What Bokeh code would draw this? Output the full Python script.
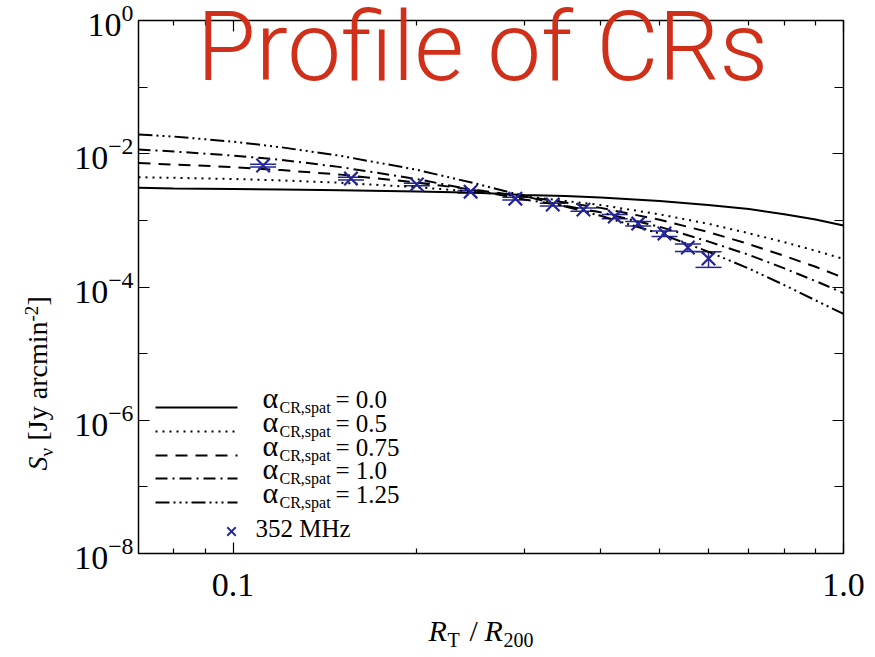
import math

from bokeh.plotting import figure
from bokeh.models import (Range1d, LinearScale, LogAxis, FixedTicker, PrintfTickFormatter,
                          Label, Whisker, TeeHead, ColumnDataSource)
from bokeh.embed import file_html
from bokeh.resources import INLINE

# ---- model surface-brightness profiles, S_nu [Jy arcmin^-2] vs R_T / R_200 ----
r_model = [0.07, 0.08, 0.1, 0.12, 0.15, 0.2, 0.25, 0.3, 0.35, 0.4, 0.5, 0.6, 0.7, 0.8, 0.9, 1.0]
s_alpha_000 = [3.09e-3, 3.02e-3, 2.95e-3, 2.90e-3, 2.83e-3, 2.71e-3, 2.59e-3, 2.41e-3,
               2.32e-3, 2.20e-3, 1.95e-3, 1.70e-3, 1.48e-3, 1.24e-3, 1.03e-3, 8.35e-4]
s_alpha_050 = [4.44e-3, 4.35e-3, 4.18e-3, 3.98e-3, 3.67e-3, 3.15e-3, 2.68e-3, 2.29e-3,
               1.96e-3, 1.70e-3, 1.23e-3, 8.9e-4, 6.4e-4, 4.7e-4, 3.5e-4, 2.64e-4]
s_alpha_075 = [7.25e-3, 6.88e-3, 6.31e-3, 5.68e-3, 4.86e-3, 3.70e-3, 2.86e-3, 2.28e-3,
               1.86e-3, 1.54e-3, 1.02e-3, 6.7e-4, 4.4e-4, 2.93e-4, 2.01e-4, 1.38e-4]
s_alpha_100 = [1.16e-2, 1.08e-2, 9.4e-3, 8.1e-3, 6.3e-3, 4.17e-3, 2.80e-3, 2.06e-3,
               1.65e-3, 1.32e-3, 8.0e-4, 4.84e-4, 3.04e-4, 1.90e-4, 1.23e-4, 8.1e-5]
s_alpha_125 = [1.94e-2, 1.81e-2, 1.52e-2, 1.25e-2, 9.3e-3, 5.75e-3, 3.56e-3, 2.32e-3,
               1.62e-3, 1.17e-3, 6.34e-4, 3.40e-4, 1.89e-4, 1.07e-4, 6.3e-5, 3.95e-5]
alpha_labels = ["0.0", "0.5", "0.75", "1.0", "1.25"]

# ---- 352 MHz radial profile ----
r_obs = [0.112, 0.156, 0.200, 0.245, 0.290, 0.334, 0.375, 0.422, 0.461, 0.509, 0.556, 0.601]
s_obs = [6.65e-3, 4.24e-3, 3.45e-3, 2.70e-3, 2.12e-3, 1.73e-3, 1.45e-3, 1.14e-3,
         8.95e-4, 6.34e-4, 3.91e-4, 2.67e-4]
s_err = [3.0e-4, 2.0e-4, 1.5e-4, 1.2e-4, 1.0e-4, 8e-5, 8e-5, 8e-5, 7e-5, 6e-5, 5e-5, 7e-5]
obs_label = "352 MHz"

# ---- axis ticks ----
x_major_ticks = [0.1, 1.0]
x_minor_ticks = [0.08, 0.09, 0.2, 0.3, 0.4, 0.5, 0.6, 0.7, 0.8, 0.9]
y_major_ticks = [1e-8, 1e-6, 1e-4, 1e-2, 1.0]
y_minor_ticks = [1e-7, 1e-5, 1e-3, 1e-1]

SERIF = "Liberation Serif"
BLUE = "#23239b"
RED = "#d0301a"
BASELINE_FIX = 0.38   # alphabetic-baseline correction for Label text, in em

W, H = 875, 657
# frame placement on the canvas
FL, FT, FW, FH = 138, 20, 705, 533

p = figure(x_axis_type="log", y_axis_type="log",
           x_range=Range1d(0.07, 1.0), y_range=Range1d(1e-8, 1.0),
           frame_width=FW, frame_height=FH,
           min_border_left=FL, min_border_right=W - FL - FW,
           min_border_top=FT, min_border_bottom=H - FT - FH,
           output_backend="svg", toolbar_location=None)
p.background_fill_color = "white"
p.border_fill_color = "white"
p.outline_line_color = "black"
p.outline_line_width = 1.5
p.xgrid.visible = False
p.ygrid.visible = False

# pixel-space ranges for the legend samples
p.extra_x_ranges = {"cx": Range1d(FL, FL + FW)}
p.extra_y_ranges = {"cy": Range1d(FT + FH, FT)}
p.extra_x_scales = {"cx": LinearScale()}
p.extra_y_scales = {"cy": LinearScale()}

x_ticker = FixedTicker(ticks=x_major_ticks, minor_ticks=x_minor_ticks)
y_ticker = FixedTicker(ticks=y_major_ticks, minor_ticks=y_minor_ticks)


def style_axis(ax, minor_len):
    ax.axis_line_color = None
    ax.major_tick_in = 11
    ax.major_tick_out = 0
    ax.minor_tick_in = minor_len
    ax.minor_tick_out = 0
    ax.major_tick_line_color = "black"
    ax.minor_tick_line_color = "black"
    ax.major_tick_line_width = 1.2
    ax.minor_tick_line_width = 1.2
    ax.major_label_text_font = SERIF
    ax.major_label_text_font_size = "34px"
    ax.major_label_text_color = "black"


xb = p.xaxis[0]
xb.ticker = x_ticker
xb.formatter = PrintfTickFormatter(format="%.1f")
style_axis(xb, 5)
xb.major_label_standoff = 20

yl = p.yaxis[0]
yl.ticker = y_ticker
style_axis(yl, 9)
yl.major_label_standoff = 5

xt = LogAxis(ticker=x_ticker)
style_axis(xt, 5)
xt.major_label_text_color = None
xt.major_label_text_font_size = "0px"
xt.major_label_standoff = 0
p.add_layout(xt, "above")

yr = LogAxis(ticker=y_ticker)
style_axis(yr, 9)
yr.major_label_text_color = None
yr.major_label_text_font_size = "0px"
yr.major_label_standoff = 0
p.add_layout(yr, "right")

# model curves
curves = [s_alpha_000, s_alpha_050, s_alpha_075, s_alpha_100, s_alpha_125]
dashes = ["solid", "2 5", "12 8", "12 5 2 5", "14 4 2 4 2 4 2 4"]
for s, d in zip(curves, dashes):
    p.line(r_model, s, line_color="black", line_width=2, line_dash=d)

# observed profile with error bars
src = ColumnDataSource(dict(
    r=r_obs, s=s_obs,
    lo=[v - e for v, e in zip(s_obs, s_err)],
    hi=[v + e for v, e in zip(s_obs, s_err)],
))
p.add_layout(Whisker(source=src, base="r", lower="lo", upper="hi", dimension="height",
                     line_color=BLUE, line_width=1.5,
                     lower_head=TeeHead(size=26, line_color=BLUE, line_width=1.5),
                     upper_head=TeeHead(size=26, line_color=BLUE, line_width=1.5)))
p.scatter("r", "s", source=src, marker="x", size=19, line_color=BLUE, line_width=2.2)

# legend samples
row_base = [408, 432, 456, 479, 503]
for d, yb in zip(dashes, row_base):
    p.line([155, 237], [yb - 1, yb - 1], x_range_name="cx", y_range_name="cy",
           line_color="black", line_width=2, line_dash=d)
p.scatter([231], [531], x_range_name="cx", y_range_name="cy", marker="x", size=12,
          line_color=BLUE, line_width=1.8)

# transparent text layer laid over the plot, in canvas pixel coordinates
t = figure(width=W, height=H, x_range=Range1d(0, W), y_range=Range1d(H, 0),
           min_border=0, x_axis_location=None, y_axis_location=None,
           output_backend="svg", toolbar_location=None,
           styles={"position": "absolute", "left": "0px", "top": "0px"})
t.background_fill_color = None
t.border_fill_color = None
t.outline_line_color = None
t.xgrid.visible = False
t.ygrid.visible = False


def text_at(text, cx, cy, size, style="normal", color="black", font=SERIF,
            angle=0.0, align="left"):
    shift = BASELINE_FIX * size
    if angle:
        cx -= shift
    else:
        cy -= shift
    t.add_layout(Label(x=cx, y=cy, text=text,
                       text_font=font, text_font_size=f"{size}px", text_font_style=style,
                       text_color=color, text_align=align, text_baseline="alphabetic",
                       angle=angle))


# legend texts
for lab, yb in zip(alpha_labels, row_base):
    text_at("\u03b1", 262, yb, 30)
    text_at("CR,spat", 279, yb + 5, 16)
    text_at("= " + lab, 335, yb, 25)
text_at(obs_label, 255, 537, 25)

# x axis title: R_T / R_200
text_at("R", 428, 641, 30, style="italic")
text_at("T", 447, 647, 20)
text_at("/", 469, 641, 30)
text_at("R", 484, 641, 30, style="italic")
text_at("200", 503, 647, 20)

# y axis title: S_nu [Jy arcmin^-2], reading upward
up = math.pi / 2
text_at("S", 48, 470, 28, style="italic", angle=up)
text_at("\u03bd", 53, 456, 19, angle=up)
text_at("[Jy arcmin", 48, 440, 28, angle=up)
text_at("-2", 38, 321, 19, angle=up)
text_at("]", 48, 305, 28, angle=up)

# slide heading
text_at("Profile of CRs", 482, 83, 96, color=RED, font="Roboto Light", align="center")

open("out.html", "w").write(file_html([p, t], INLINE))
